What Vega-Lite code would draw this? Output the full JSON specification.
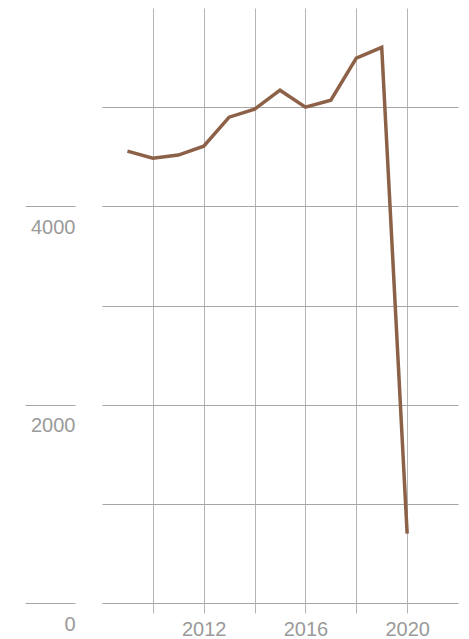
{
  "$schema": "https://vega.github.io/schema/vega-lite/v6.json",
  "width": 356,
  "height": 595,
  "autosize": "none",
  "padding": {"left": 102, "top": 8, "right": 11, "bottom": 36},
  "background": "#ffffff",
  "config": {
    "view": {"stroke": null},
    "axis": {"labelFont": "Liberation Sans", "labelFontSize": 20, "labelColor": "#9a9a9a"}
  },
  "data": {
    "values": [
      {"year": 2009, "value": 4557},
      {"year": 2010, "value": 4486},
      {"year": 2011, "value": 4517},
      {"year": 2012, "value": 4607},
      {"year": 2013, "value": 4899},
      {"year": 2014, "value": 4980},
      {"year": 2015, "value": 5171},
      {"year": 2016, "value": 5000},
      {"year": 2017, "value": 5071},
      {"year": 2018, "value": 5494},
      {"year": 2019, "value": 5604},
      {"year": 2020, "value": 700}
    ]
  },
  "resolve": {"axis": {"y": "independent"}},
  "layer": [
    {
      "mark": {"type": "line", "color": "#8c6147", "strokeWidth": 3.5, "strokeJoin": "miter"},
      "encoding": {
        "x": {
          "field": "year", "type": "quantitative",
          "scale": {"domain": [2008, 2022], "nice": false, "zero": false},
          "axis": {
            "title": null, "values": [2010, 2012, 2014, 2016, 2018, 2020],
            "format": "d", "labelExpr": "datum.value % 4 == 0 ? datum.label : ''",
            "domain": false, "grid": true, "gridColor": "#b4b4b4", "gridWidth": 1,
            "ticks": true, "tickSize": 10, "tickColor": "#b4b4b4",
            "labelPadding": 6
          }
        },
        "y": {
          "field": "value", "type": "quantitative",
          "scale": {"domain": [0, 6000], "nice": false},
          "axis": {
            "title": null, "values": [0, 1000, 2000, 3000, 4000, 5000],
            "labels": false, "ticks": false, "domain": false,
            "grid": true, "gridColor": "#a6a6a6", "gridWidth": 1
          }
        }
      }
    },
    {
      "mark": {"type": "line", "strokeOpacity": 0},
      "encoding": {
        "x": {"field": "year", "type": "quantitative"},
        "y": {
          "field": "value", "type": "quantitative",
          "axis": {
            "orient": "left",
            "title": null, "values": [0, 2000, 4000], "format": "d",
            "grid": false, "domain": false, "offset": 27,
            "ticks": true, "tickSize": 50, "tickColor": "#a6a6a6",
            "labelAlign": "right", "labelBaseline": "top",
            "labelPadding": -50, "labelOffset": 11
          }
        }
      }
    }
  ]
}
